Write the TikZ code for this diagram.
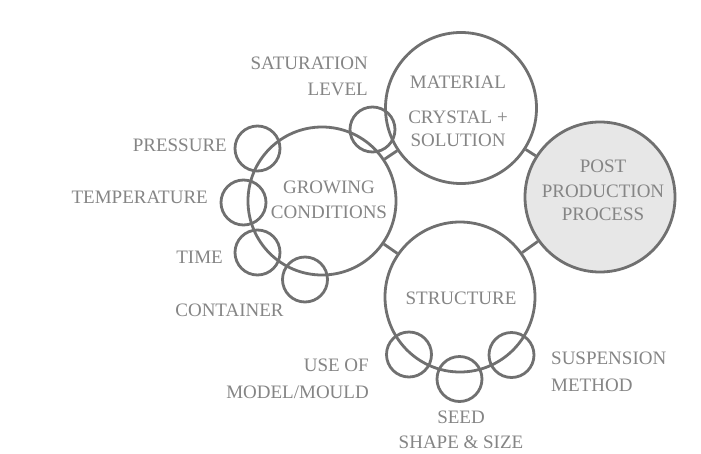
\documentclass[tikz,border=0pt]{standalone}
\usepackage{fontspec}
\setmainfont{Liberation Serif}
\begin{document}
\begin{tikzpicture}[x=1pt,y=-1pt,
  ring/.style={circle,draw=ringgray,line width=2.8pt,inner sep=0pt},
  bigring/.style={ring,minimum size=150pt},
  smallring/.style={ring,minimum size=45pt},
  link/.style={draw=ringgray,line width=2.8pt},
  lbl/.style={text=textgray,font=\fontsize{19}{26}\selectfont,inner sep=0pt}]
\definecolor{ringgray}{HTML}{707070}
\definecolor{textgray}{HTML}{858585}
\definecolor{postfill}{HTML}{E7E7E7}
\useasboundingbox (0,0) rectangle (701,453);
\fill[white] (0,0) rectangle (701,453);

% main circles
\node[bigring,minimum size=148pt] (grow) at (322,201) {};
\node[bigring,minimum size=151pt] (mat) at (461,108) {};
\node[bigring,fill=postfill] (post) at (600,197) {};
\node[bigring] (struct) at (460,297) {};

% texts inside the main circles
\node[lbl,align=center] (growL) at (329,200) {GROWING\\[-1pt]CONDITIONS};
\node[lbl] (matA) at (458,82) {MATERIAL};
\node[lbl,align=center] (matB) at (458,128.5) {CRYSTAL +\\[-3pt]SOLUTION};
\node[lbl,align=center] (postL) at (603,190.5) {POST\\[-1pt]PRODUCTION\\[-3pt]PROCESS};
\node[lbl] (structL) at (461,298) {STRUCTURE};

% links between main circles
\draw[link] (grow) -- (mat);
\draw[link] (mat) -- (post);
\draw[link] (post) -- (struct);
\draw[link] (grow) -- (struct);

% satellite circles
\node[smallring] (sat) at (372.5,129.5) {};
\node[smallring] (pres) at (257.5,148.5) {};
\node[smallring] (temp) at (243.5,202.5) {};
\node[smallring] (time) at (257.5,252.5) {};
\node[smallring] (cont) at (305,279.5) {};
\node[smallring] (mould) at (409,354.5) {};
\node[smallring] (seed) at (459.5,379) {};
\node[smallring] (susp) at (511.5,355) {};

% satellite labels
\node[lbl,anchor=east,align=right] (satL) at (368,76) {SATURATION\\LEVEL};
\node[lbl,anchor=east] (presL) at (227,145) {PRESSURE};
\node[lbl,anchor=east] (tempL) at (208,197) {TEMPERATURE};
\node[lbl,anchor=east] (timeL) at (223,257) {TIME};
\node[lbl] (contL) at (229.5,310) {CONTAINER};
\node[lbl,anchor=east,align=right] (mouldL) at (369,378.5) {USE OF\\[1pt]MODEL/MOULD};
\node[lbl,align=center] (seedL) at (461,430) {SEED\\[-1pt]SHAPE \& SIZE};
\node[lbl,anchor=west,align=left] (suspL) at (551,371.5) {SUSPENSION\\[1pt]METHOD};
\end{tikzpicture}
\end{document}
